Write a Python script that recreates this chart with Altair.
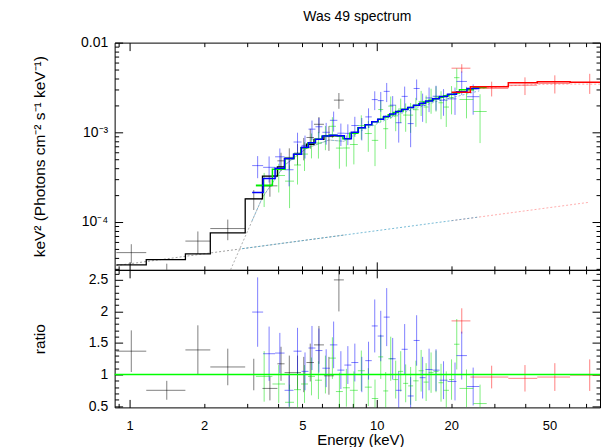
import altair as alt
import pandas as pd

FONT = "Liberation Sans"

# ---------------- axis ranges and tick values ----------------
X_DOMAIN = [0.87, 80.03]
F_DOMAIN = [2.928e-5, 1.0e-2]
R_DOMAIN = [0.479, 2.659]
X_LABELS = [1, 2, 5, 10, 20, 50]
X_MAJOR = [1, 10]
X_MINOR = [0.9, 2, 3, 4, 5, 6, 7, 8, 9, 20, 30, 40, 50, 60, 70, 80]
F_LABELS = [1e-2, 1e-3, 1e-4]
F_MINOR = [3e-5, 4e-5, 5e-5, 6e-5, 7e-5, 8e-5, 9e-5,
           2e-4, 3e-4, 4e-4, 5e-4, 6e-4, 7e-4, 8e-4, 9e-4,
           2e-3, 3e-3, 4e-3, 5e-3, 6e-3, 7e-3, 8e-3, 9e-3]
R_LABELS = [0.5, 1, 1.5, 2, 2.5]
R_MINOR = [0.6, 0.7, 0.8, 0.9, 1.1, 1.2, 1.3, 1.4, 1.6, 1.7, 1.8, 1.9,
           2.1, 2.2, 2.3, 2.4, 2.6]

# ---------------- black instrument ----------------
black_edges = [0.884, 1.168, 1.682, 2.121, 2.936, 3.448, 3.963, 4.236, 4.627,
               4.938, 5.196, 5.571, 6.114, 6.708, 7.360]
black_e = [1.016, 1.414, 1.889, 2.496, 3.180, 3.696, 4.099, 4.428, 4.780,
           5.066, 5.382, 5.835, 6.405, 7.028]
black_model = [3.327e-5, 3.81e-5, 4.41e-5, 7.55e-5, 1.816e-4, 3.245e-4, 4.11e-4,
               5.10e-4, 5.69e-4, 6.76e-4, 7.36e-4, 8.36e-4, 9.14e-4, 9.14e-4]
black_flux = [4.558e-5, 2.858e-5, 6.13e-5, 8.456e-5, 1.816e-4, 2.531e-4, 4.809e-4,
              5.253e-4, 5.861e-4, 6.76e-4, 8.758e-4, 1.229e-3, 8.957e-4, 2.285e-3]
black_ferr = [1.098e-5, 5.72e-6, 1.72e-5, 2.19e-5, 4.54e-5, 6.17e-5, 1.11e-4,
              1.377e-4, 1.536e-4, 1.893e-4, 2.208e-4, 2.508e-4, 2.742e-4, 4.57e-4]
black_ratio = [1.37, 0.75, 1.39, 1.12, 1.00, 0.78, 1.17, 1.03, 1.03, 1.00, 1.19,
               1.47, 0.98, 2.50]
black_rerr = [0.33, 0.15, 0.39, 0.29, 0.25, 0.19, 0.27, 0.27, 0.27, 0.28, 0.30,
              0.30, 0.30, 0.50]

# ---------------- blue instrument ----------------
blue_edges = [3.133, 3.470, 3.879, 4.236, 4.606, 4.962, 5.294, 5.649, 6.028, 6.463,
              6.929, 7.396, 7.892, 8.422, 8.987, 9.546, 10.09, 10.67, 11.28, 11.93,
              12.61, 13.34, 14.10, 14.91, 15.76, 16.82, 17.95, 19.34, 21.02, 23.17,
              26.02]
blue_e = [3.297, 3.668, 4.054, 4.418, 4.780, 5.125, 5.469, 5.835, 6.242, 6.692,
          7.158, 7.640, 8.153, 8.700, 9.263, 9.815, 10.38, 10.97, 11.60, 12.27,
          12.97, 13.71, 14.50, 15.33, 16.28, 17.37, 18.63, 20.73, 22.07, 24.55]
blue_model = [2.138e-4, 3.060e-4, 3.981e-4, 5.102e-4, 5.69e-4, 6.81e-4, 7.64e-4,
              8.36e-4, 9.10e-4, 9.26e-4, 9.14e-4, 8.47e-4, 1.0e-3, 1.128e-3,
              1.218e-3, 1.309e-3, 1.402e-3, 1.498e-3, 1.605e-3, 1.707e-3, 1.797e-3,
              1.896e-3, 2.001e-3, 2.111e-3, 2.239e-3, 2.362e-3, 2.505e-3, 2.650e-3,
              2.840e-3, 3.083e-3]
blue_flux = [4.255e-4, 4.070e-4, 5.335e-4, 3.827e-4, 7.795e-4, 7.151e-4, 1.085e-3,
             1.154e-3, 1.001e-3, 1.361e-3, 9.78e-4, 9.74e-4, 1.19e-3, 1.128e-3,
             1.486e-3, 2.317e-3, 2.257e-3, 2.861e-3, 2.006e-3, 1.280e-3, 2.516e-3,
             1.251e-3, 3.082e-3, 2.005e-3, 2.418e-3, 2.527e-3, 2.280e-3, 2.359e-3,
             3.692e-3, 2.497e-3]
blue_ferr = [1.176e-4, 1.316e-4, 1.274e-4, 1.327e-4, 2.105e-4, 2.043e-4, 2.674e-4,
             2.926e-4, 2.730e-4, 3.426e-4, 2.742e-4, 2.541e-4, 3.0e-4, 3.158e-4,
             3.654e-4, 5.498e-4, 5.608e-4, 6.891e-4, 5.297e-4, 5.121e-4, 7.188e-4,
             5.688e-4, 8.004e-4, 6.966e-4, 7.389e-4, 7.795e-4, 7.515e-4, 7.95e-4,
             1.079e-3, 9.249e-4]
blue_ratio = [1.99, 1.33, 1.34, 0.75, 1.37, 1.05, 1.42, 1.38, 1.10, 1.47, 1.07,
              1.15, 1.19, 1.00, 1.22, 1.77, 1.61, 1.91, 1.25, 0.75, 1.40, 0.66,
              1.54, 0.95, 1.08, 1.07, 0.91, 0.89, 1.30, 0.81]
blue_rerr = [0.55, 0.43, 0.32, 0.26, 0.37, 0.30, 0.35, 0.35, 0.30, 0.37, 0.30,
             0.30, 0.30, 0.28, 0.30, 0.42, 0.40, 0.46, 0.33, 0.30, 0.40, 0.30,
             0.40, 0.33, 0.33, 0.33, 0.30, 0.30, 0.38, 0.30]

# ---------------- green instrument ----------------
green_edges = [3.243, 3.783, 4.256, 4.627, 4.938, 5.268, 5.623, 6.001, 6.405, 6.834,
               7.293, 7.783, 8.383, 8.946, 9.546, 10.14, 10.62, 11.13, 11.66, 12.21,
               12.79, 13.40, 14.04, 14.77, 15.47, 16.21, 16.98, 17.78, 18.63, 19.60,
               20.54, 21.61, 24.61, 27.85]
green_e = [3.503, 4.013, 4.438, 4.780, 5.102, 5.444, 5.808, 6.198, 6.614, 7.061,
           7.534, 8.079, 8.660, 9.242, 9.838, 10.38, 10.87, 11.39, 11.93, 12.50,
           13.09, 13.71, 14.40, 15.12, 15.84, 16.59, 17.37, 18.20, 19.11, 20.07,
           21.07, 23.07, 26.18]
green_model = [2.576e-4, 3.88e-4, 5.10e-4, 5.69e-4, 6.73e-4, 7.64e-4, 8.36e-4,
               9.03e-4, 9.26e-4, 9.14e-4, 8.47e-4, 9.75e-4, 1.122e-3, 1.212e-3,
               1.312e-3, 1.402e-3, 1.483e-3, 1.568e-3, 1.660e-3, 1.734e-3, 1.811e-3,
               1.896e-3, 1.986e-3, 2.084e-3, 2.177e-3, 2.268e-3, 2.362e-3, 2.455e-3,
               2.551e-3, 2.644e-3, 2.747e-3, 2.981e-3, 3.162e-3]
green_flux = [2.499e-4, 3.298e-4, 2.856e-4, 4.324e-4, 5.721e-4, 7.411e-4, 7.608e-4,
              9.03e-4, 1.167e-3, 6.672e-4, 6.691e-4, 7.313e-4, 1.189e-3, 9.696e-4,
              8.134e-4, 1.795e-3, 1.097e-3, 1.960e-3, 1.527e-3, 1.821e-3, 1.557e-3,
              1.555e-3, 1.787e-3, 2.209e-3, 1.916e-3, 2.336e-3, 2.480e-3, 2.136e-3,
              1.913e-3, 2.432e-3, 4.066e-3, 2.325e-3, 1.707e-3]
green_ferr = [1.03e-4, 1.164e-4, 1.428e-4, 1.707e-4, 2.019e-4, 2.292e-4, 2.508e-4,
              2.709e-4, 3.056e-4, 2.742e-4, 2.541e-4, 2.925e-4, 3.59e-4, 3.636e-4,
              3.936e-4, 4.907e-4, 4.449e-4, 5.488e-4, 4.98e-4, 5.549e-4, 5.433e-4,
              5.688e-4, 6.355e-4, 6.877e-4, 6.531e-4, 7.258e-4, 7.795e-4, 7.365e-4,
              7.653e-4, 8.461e-4, 1.099e-3, 8.943e-4, 9.486e-4]
green_ratio = [0.97, 0.85, 0.56, 0.76, 0.85, 0.97, 0.91, 1.00, 1.26, 0.73, 0.79,
               0.75, 1.06, 0.80, 0.62, 1.28, 0.74, 1.25, 0.92, 1.05, 0.86, 0.82,
               0.90, 1.06, 0.88, 1.03, 1.05, 0.87, 0.75, 0.92, 1.48, 0.78, 0.54]
green_rerr = [0.40, 0.30, 0.28, 0.30, 0.30, 0.30, 0.30, 0.30, 0.33, 0.30, 0.30,
              0.30, 0.32, 0.30, 0.30, 0.35, 0.30, 0.35, 0.30, 0.32, 0.30, 0.30,
              0.32, 0.33, 0.30, 0.32, 0.33, 0.30, 0.30, 0.32, 0.40, 0.30, 0.30]

# ---------------- red instrument ----------------
red_edges = [20.07, 23.93, 34.06, 44.60, 60.57, 86.2]
red_e = [22.08, 29.17, 39.78, 52.54, 72.72]
red_model = [2.804e-3, 3.219e-3, 3.566e-3, 3.659e-3, 3.622e-3]
red_flux = [5.187e-3, 3.09e-3, 3.352e-3, 3.513e-3, 3.586e-3]
red_ferr = [5.61e-4, 5.79e-4, 7.49e-4, 8.05e-4, 9.06e-4]
red_ratio = [1.85, 0.96, 0.94, 0.96, 0.99]
red_rerr = [0.20, 0.18, 0.21, 0.22, 0.25]

# ---------------- model components (dotted) ----------------
soft_black_e = [0.884, 7.36]
soft_black_f = [3.27e-5, 7.15e-5]
soft_bg_e = [2.85, 26.0]
soft_bg_f = [5.04e-5, 1.139e-4]
soft_red_e = [20.07, 72.0]
soft_red_f = [1.034e-4, 1.656e-4]
hard_black_e = [2.45, 2.936, 3.448, 4.236, 5.196, 6.405, 7.36]
hard_black_f = [2.22e-5, 6.89e-5, 1.88e-4, 4.30e-4, 6.64e-4, 8.2e-4, 7.94e-4]
hard_bg_e = [3.13, 3.448, 4.236, 5.196, 6.405, 7.36, 8.7, 12.27, 17.37, 26.0]
hard_bg_f = [1.033e-4, 1.88e-4, 4.30e-4, 6.64e-4, 8.2e-4, 7.94e-4, 1.05e-3,
             1.59e-3, 2.2e-3, 2.9e-3]
hard_red_e = [20.07, 23.93, 34.06, 44.6, 60.57, 86.2]
hard_red_f = [2.65e-3, 3.0e-3, 3.3e-3, 3.42e-3, 3.45e-3, 3.43e-3]

INST = ["black", "red", "green", "blue"]
INST_COLORS = ["#000000", "#ff0000", "#00dd00", "#0000ff"]

W, H_TOP, H_BOT = 487, 228, 138

xs = alt.Scale(type="log", domain=X_DOMAIN, nice=False)
fs = alt.Scale(type="log", domain=F_DOMAIN, nice=False)
rs = alt.Scale(type="linear", domain=R_DOMAIN, nice=False, zero=False)
cs = alt.Scale(domain=INST, range=INST_COLORS)


def data_table(name, edges, e, flux, ferr, ratio, rerr):
    return pd.DataFrame({"inst": name, "E": e, "Elo": edges[:-1], "Ehi": edges[1:],
                         "F": flux, "Ferr": ferr, "R": ratio, "Rerr": rerr})


def step_table(edges, model):
    rows = []
    for i, m in enumerate(model):
        rows.append({"E": edges[i], "M": m, "k": 2 * i})
        rows.append({"E": edges[i + 1], "M": m, "k": 2 * i + 1})
    return pd.DataFrame(rows)


pts = pd.concat([
    data_table("black", black_edges, black_e, black_flux, black_ferr, black_ratio, black_rerr),
    data_table("red", red_edges, red_e, red_flux, red_ferr, red_ratio, red_rerr),
    data_table("green", green_edges, green_e, green_flux, green_ferr, green_ratio, green_rerr),
    data_table("blue", blue_edges, blue_e, blue_flux, blue_ferr, blue_ratio, blue_rerr),
], ignore_index=True)


def tick_axis(orient, values, size):
    return alt.Axis(orient=orient, values=values, tickSize=size, offset=-size,
                    labels=False, domain=False, grid=False, title=None,
                    tickColor="black", tickWidth=1)


def axis_layers(anchor_val, yscale, x_label_axis, y_label_axis, y_major, y_minor):
    base = alt.Chart(pd.DataFrame({"E": [1.0], "V": [anchor_val]})).mark_point(opacity=0, size=1)
    layers = [base.encode(x=alt.X("E:Q", scale=xs, axis=x_label_axis),
                          y=alt.Y("V:Q", scale=yscale, axis=y_label_axis))]
    for xo, yo, xv, yv, sz in [("bottom", "left", X_MAJOR, y_major, 8),
                               ("bottom", "left", X_MINOR, y_minor, 4),
                               ("top", "right", X_MAJOR, y_major, 8),
                               ("top", "right", X_MINOR, y_minor, 4)]:
        layers.append(base.encode(x=alt.X("E:Q", scale=xs, axis=tick_axis(xo, xv, sz)),
                                  y=alt.Y("V:Q", scale=yscale, axis=tick_axis(yo, yv, sz))))
    return layers


def dotted(e, f, color):
    return alt.Chart(pd.DataFrame({"E": e, "F": f})).mark_line(
        strokeDash=[2, 2], strokeWidth=1, color=color, clip=True, opacity=0.8
    ).encode(x=alt.X("E:Q", scale=xs, axis=None), y=alt.Y("F:Q", scale=fs, axis=None))


def model_line(edges, model, color, width):
    return alt.Chart(step_table(edges, model)).mark_line(
        color=color, strokeWidth=width, clip=True
    ).encode(x=alt.X("E:Q", scale=xs, axis=None), y=alt.Y("M:Q", scale=fs, axis=None),
             order="k:Q")


# ---------------- top panel ----------------
y_top_axis = alt.Axis(orient="left", values=F_LABELS, ticks=False, tickSize=0, domain=False,
                      grid=False, labelPadding=7, labelFlush=False, labelOverlap=False,
                      labelExpr="datum.value > 0.005 ? '0.01' : (datum.value > 0.0005 ? '10⁻³' : '10⁻⁴')",
                      title="keV² (Photons cm⁻² s⁻¹ keV⁻¹)", titleX=-75, titleY=H_TOP / 2,
                      titleAngle=270, titleBaseline="middle", titleAlign="center",
                      titleFontSize=15.5)

top_vbars = alt.Chart(pts).transform_calculate(
    Flo="datum.F - datum.Ferr", Fhi="datum.F + datum.Ferr"
).mark_rule(strokeWidth=1, opacity=0.5, clip=True).encode(
    x=alt.X("E:Q", scale=xs, axis=None), y=alt.Y("Flo:Q", scale=fs, axis=None), y2="Fhi:Q",
    color=alt.Color("inst:N", scale=cs, legend=None))
top_hbars = alt.Chart(pts).mark_rule(strokeWidth=1, opacity=0.5, clip=True).encode(
    x=alt.X("Elo:Q", scale=xs, axis=None), x2="Ehi:Q", y=alt.Y("F:Q", scale=fs, axis=None),
    color=alt.Color("inst:N", scale=cs, legend=None))

top_layers = axis_layers(1e-3, fs, None, y_top_axis, F_LABELS, F_MINOR) + [
    dotted(soft_red_e, soft_red_f, "#ff9999"),
    dotted(soft_black_e, soft_black_f, "#888888"),
    dotted(soft_bg_e, soft_bg_f, "#55aacc"),
    dotted(hard_red_e, hard_red_f, "#ff9999"),
    dotted(hard_black_e, hard_black_f, "#999999"),
    dotted(hard_bg_e, hard_bg_f, "#66aacc"),
    top_vbars, top_hbars,
    model_line(black_edges, black_model, "#000000", 1.3),
    model_line(green_edges, green_model, "#00ee00", 1.5),
    model_line(blue_edges, blue_model, "#0000ff", 1.5),
    model_line(red_edges, red_model, "#ff0000", 1.5),
]
top = alt.layer(*top_layers).resolve_axis(x="independent", y="independent").properties(
    width=W, height=H_TOP,
    title=alt.Title("Was 49 spectrum", fontSize=14, font=FONT, fontWeight="normal",
                    color="black", anchor="middle", offset=12))

# ---------------- bottom panel ----------------
y_bot_axis = alt.Axis(orient="left", values=R_LABELS, ticks=False, tickSize=0, domain=False,
                      grid=False, labelPadding=7, labelFlush=False, labelOverlap=False,
                      labelExpr="'' + datum.value",
                      title="ratio", titleX=-75, titleY=H_BOT / 2,
                      titleAngle=270, titleBaseline="middle", titleAlign="center",
                      titleFontSize=15.5)
x_bot_axis = alt.Axis(orient="bottom", values=X_LABELS, ticks=False, tickSize=0, domain=False,
                      grid=False, labelPadding=12, labelFlush=False, labelOverlap=False,
                      labelFontSize=13, labelExpr="'' + datum.value",
                      title="Energy (keV)", titleX=W / 2 + 3, titleY=25.5,
                      titleBaseline="top", titleAlign="center")

bot_vbars = alt.Chart(pts).transform_calculate(
    Rlo="datum.R - datum.Rerr", Rhi="datum.R + datum.Rerr"
).mark_rule(strokeWidth=1, opacity=0.5, clip=True).encode(
    x=alt.X("E:Q", scale=xs, axis=None), y=alt.Y("Rlo:Q", scale=rs, axis=None), y2="Rhi:Q",
    color=alt.Color("inst:N", scale=cs, legend=None))
bot_hbars = alt.Chart(pts).mark_rule(strokeWidth=1, opacity=0.5, clip=True).encode(
    x=alt.X("Elo:Q", scale=xs, axis=None), x2="Ehi:Q", y=alt.Y("R:Q", scale=rs, axis=None),
    color=alt.Color("inst:N", scale=cs, legend=None))
unity = alt.Chart(pd.DataFrame({"E": [1.0]})).mark_rule(color="#00ff00", strokeWidth=1.5).encode(
    y=alt.YDatum(1.0, scale=rs, axis=None))

bot_layers = axis_layers(1.0, rs, x_bot_axis, y_bot_axis, R_LABELS, R_MINOR) + [
    bot_vbars, bot_hbars, unity]
bot = alt.layer(*bot_layers).resolve_axis(x="independent", y="independent").properties(
    width=W, height=H_BOT)

chart = alt.vconcat(top, bot, spacing=0, bounds="flush").properties(
    padding={"left": 24, "top": 0, "right": 0, "bottom": 0}
).configure(font=FONT).configure_view(stroke="black", strokeWidth=1).configure_axis(
    labelFont=FONT, titleFont=FONT, labelFontSize=14, titleFontSize=15,
    labelColor="black", titleColor="black", titleFontWeight="normal")

chart.save("out.html", embed_options={"renderer": "svg", "actions": False})
